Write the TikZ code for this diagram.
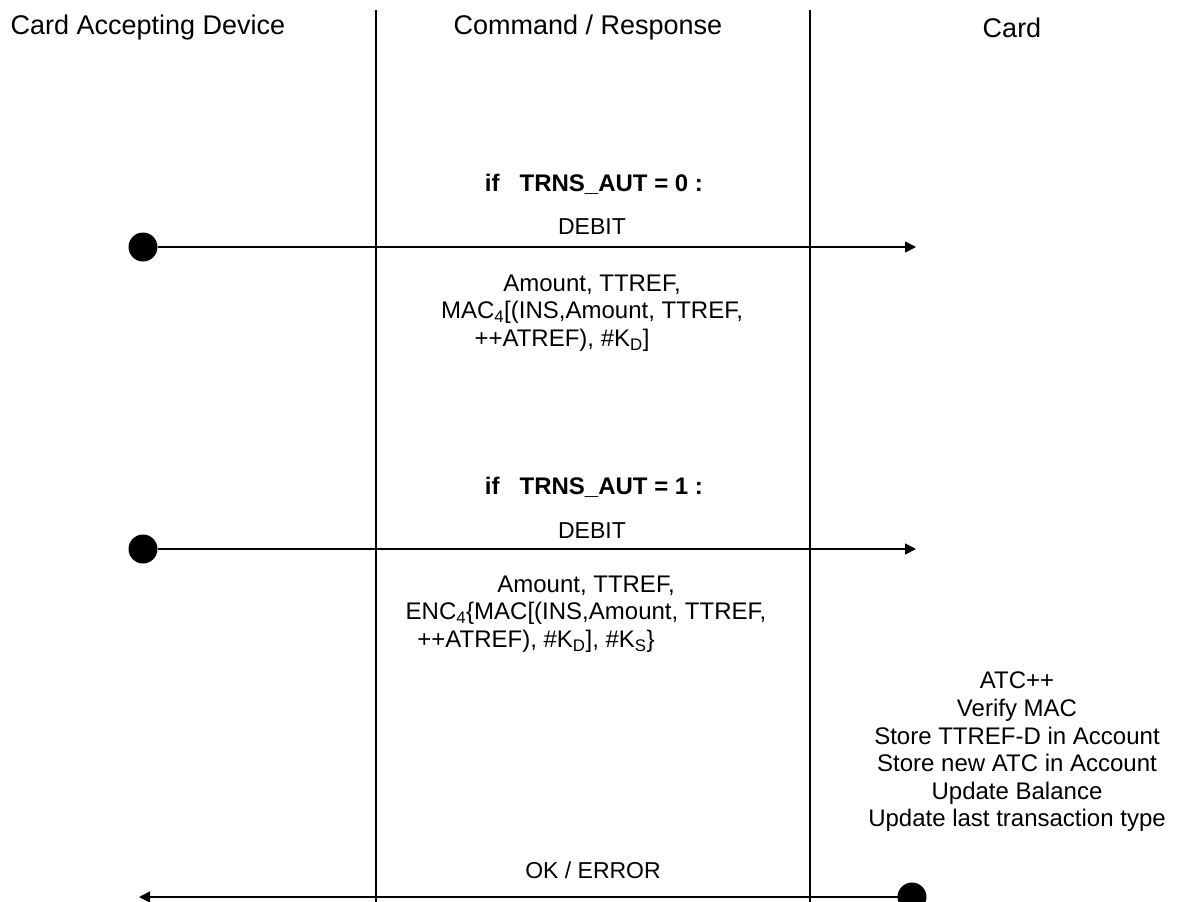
\documentclass[tikz,border=0pt]{standalone}
\usepackage{fontspec}
\setmainfont{Liberation Sans}
\usetikzlibrary{arrows.meta}
\begin{document}
\begin{tikzpicture}[x=1pt,y=-1pt,
  every node/.style={inner sep=0pt,outer sep=0pt},
  head/.style={font=\fontsize{27}{31}\selectfont,anchor=center},
  body/.style={font=\fontsize{24}{27.6}\selectfont,align=center,anchor=center},
  label/.style={font=\fontsize{23}{26}\selectfont,anchor=center},
  cond/.style={font=\bfseries\fontsize{24}{27.6}\selectfont,anchor=center},
  lifeline/.style={line width=2pt},
  msg/.style={line width=1.6pt,-{Triangle[length=11pt,width=11pt]}},
  dot/.style={circle,fill=black,minimum size=29pt}]
\useasboundingbox (0,0) rectangle (1179,902);
% column headers
\node[head] (hcad) at (148,28) {Card Accepting Device};
\node[head] (hcr)  at (588,28) {Command / Response};
\node[head] (hcard) at (1012,28) {Card};
% column separators
\coordinate (l1top) at (376,10);
\coordinate (l1bot) at (376,902);
\coordinate (l2top) at (810,10);
\coordinate (l2bot) at (810,902);
\draw[lifeline] (l1top) -- (l1bot);
\draw[lifeline] (l2top) -- (l2bot);
% first DEBIT command
\node[cond] (if0) at (594,184) {if\ \ \ TRNS\_AUT = 0 :};
\node[label] (debit0) at (592,227) {DEBIT};
\node[dot] (src0) at (143,247) {};
\coordinate (dst0) at (916,247);
\draw[msg] (src0) -- (dst0);
\node[body] (par0) at (592,313) {Amount, TTREF,\\MAC\textsubscript{4}[(INS,Amount, TTREF,\\++ATREF), \#K\textsubscript{D}]\hspace*{60pt}};
% second DEBIT command
\node[cond] (if1) at (594,487) {if\ \ \ TRNS\_AUT = 1 :};
\node[label] (debit1) at (592,531) {DEBIT};
\node[dot] (src1) at (143,549) {};
\coordinate (dst1) at (916,549);
\draw[msg] (src1) -- (dst1);
\node[body] (par1) at (586,614) {Amount, TTREF,\\ENC\textsubscript{4}\{MAC[(INS,Amount, TTREF,\\++ATREF), \#K\textsubscript{D}], \#K\textsubscript{S}\}\hspace*{100pt}};
% card processing
\node[body] (proc) at (1017,752) {ATC++\\Verify MAC\\Store TTREF-D in Account\\Store new ATC in Account\\Update Balance\\Update last transaction type};
% response
\node[label] (resp) at (593,870) {OK / ERROR};
\node[dot] (src2) at (912,897) {};
\coordinate (dst2) at (139,897);
\draw[msg] (src2) -- (dst2);
\end{tikzpicture}
\end{document}
